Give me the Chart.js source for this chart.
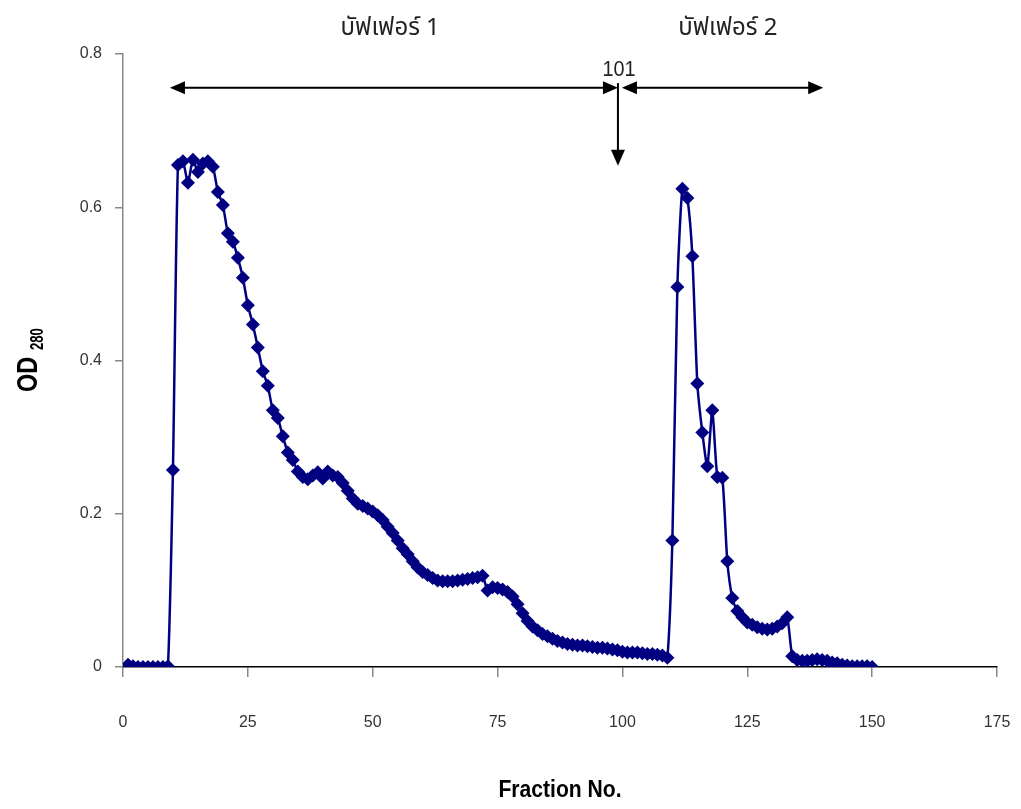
<!DOCTYPE html>
<html lang="th">
<head>
  <meta charset="UTF-8">
  <title>OD280 - Fraction No.</title>
  <script src="https://cdn.jsdelivr.net/npm/chart.js"></script>
  <style>
    html, body { margin: 0; padding: 0; background: #fff; }
    #wrap { width: 1021px; height: 809px; position: relative; }
  </style>
</head>
<body>
  <div id="wrap"><canvas id="odChart"></canvas></div>

  <script>
    // fraction numbers
    const fractions = [
      1, 2, 3, 4, 5, 6, 7, 8, 9, 10, 11, 12, 13, 14, 15, 16, 17, 18, 19, 20,
      21, 22, 23, 24, 25, 26, 27, 28, 29, 30, 31, 32, 33, 34, 35, 36, 37, 38, 39, 40,
      41, 42, 43, 44, 45, 46, 47, 48, 49, 50, 51, 52, 53, 54, 55, 56, 57, 58, 59, 60,
      61, 62, 63, 64, 65, 66, 67, 68, 69, 70, 71, 72, 73, 74, 75, 76, 77, 78, 79, 80,
      81, 82, 83, 84, 85, 86, 87, 88, 89, 90, 91, 92, 93, 94, 95, 96, 97, 98, 99, 100,
      101, 102, 103, 104, 105, 106, 107, 108, 109, 110, 111, 112, 113, 114, 115, 116, 117, 118, 119, 120,
      121, 122, 123, 124, 125, 126, 127, 128, 129, 130, 131, 132, 133, 134, 135, 136, 137, 138, 139, 140,
      141, 142, 143, 144, 145, 146, 147, 148, 149, 150
    ];

    // OD280 readings
    const od280 = [
      0.003, 0.001, 0.000, 0.000, 0.000, 0.000, 0.000, 0.000, 0.001, 0.257,
      0.655, 0.660, 0.632, 0.662, 0.646, 0.657, 0.660, 0.653, 0.620, 0.603,
      0.566, 0.555, 0.534, 0.508, 0.472, 0.447, 0.417, 0.386, 0.367, 0.335,
      0.325, 0.301, 0.280, 0.270, 0.255, 0.248, 0.245, 0.250, 0.254, 0.246,
      0.255, 0.250, 0.248, 0.240, 0.230, 0.220, 0.213, 0.210, 0.207, 0.203,
      0.198, 0.192, 0.183, 0.175, 0.165, 0.155, 0.147, 0.138, 0.130, 0.124,
      0.120, 0.116, 0.113, 0.112, 0.112, 0.112, 0.113, 0.114, 0.115, 0.116,
      0.117, 0.119, 0.100, 0.104, 0.103, 0.101, 0.098, 0.092, 0.082, 0.070,
      0.060, 0.053, 0.048, 0.043, 0.040, 0.037, 0.034, 0.032, 0.030, 0.029,
      0.028, 0.028, 0.027, 0.026, 0.025, 0.025, 0.024, 0.023, 0.022, 0.020,
      0.019, 0.019, 0.019, 0.018, 0.017, 0.017, 0.016, 0.015, 0.012, 0.165,
      0.496, 0.624, 0.612, 0.536, 0.370, 0.306, 0.262, 0.335, 0.248, 0.247,
      0.138, 0.090, 0.073, 0.065, 0.058, 0.055, 0.052, 0.050, 0.049, 0.050,
      0.053, 0.057, 0.065, 0.014, 0.009, 0.008, 0.008, 0.009, 0.010, 0.009,
      0.008, 0.006, 0.005, 0.003, 0.002, 0.001, 0.001, 0.001, 0.001, 0.000
    ];

    const xTicks = [0, 25, 50, 75, 100, 125, 150, 175];
    const yTicks = [0, 0.2, 0.4, 0.6, 0.8];

    // buffer ranges (fraction numbers) and labels
    const buffer1 = [9.4, 99.1];
    const buffer2 = [99.9, 140.2];
    const bufferLabels = ['บัฟเฟอร์ 1', 'บัฟเฟอร์ 2'];
    const bufferLabelAt = [53.5, 121.1];
    const switchFraction = 99.1;
    const switchLabel = '101';

    const points = fractions.map((f, i) => ({ x: f, y: od280[i] }));

    // narrow bold text, squeezed horizontally
    function narrowText(ctx, text, x, y, size, squeeze) {
      ctx.save();
      ctx.translate(x, y);
      ctx.scale(squeeze, 1);
      ctx.font = 'bold ' + size + 'px "Liberation Sans", sans-serif';
      ctx.fillText(text, 0, 0);
      ctx.restore();
    }

    // arrows, labels and axis titles
    const notes = {
      id: 'notes',
      afterDraw(chart) {
        const ctx = chart.ctx;
        const xs = chart.scales.x, ys = chart.scales.y;
        const yArrow = ys.getPixelForValue(0.756);
        ctx.save();
        ctx.strokeStyle = '#000';
        ctx.fillStyle = '#000';
        ctx.lineWidth = 2;

        function head(x, y, dir) {
          // dir: 1 right, -1 left, 2 down
          ctx.beginPath();
          if (dir === 2) {
            ctx.moveTo(x, y);
            ctx.lineTo(x - 7, y - 16);
            ctx.lineTo(x + 7, y - 16);
          } else {
            ctx.moveTo(x, y);
            ctx.lineTo(x - dir * 15, y - 6.5);
            ctx.lineTo(x - dir * 15, y + 6.5);
          }
          ctx.closePath();
          ctx.fill();
        }
        function dbl(a, b) {
          const x1 = xs.getPixelForValue(a), x2 = xs.getPixelForValue(b);
          ctx.beginPath();
          ctx.moveTo(x1 + 4, yArrow);
          ctx.lineTo(x2 - 4, yArrow);
          ctx.stroke();
          head(x1, yArrow, -1);
          head(x2, yArrow, 1);
        }
        dbl(buffer1[0], buffer1[1]);
        dbl(buffer2[0], buffer2[1]);

        // vertical arrow at the buffer change
        const xs0 = xs.getPixelForValue(switchFraction);
        const yBot = ys.getPixelForValue(0.654);
        ctx.beginPath();
        ctx.moveTo(xs0, ys.getPixelForValue(0.762));
        ctx.lineTo(xs0, yBot - 6);
        ctx.stroke();
        head(xs0, yBot, 2);

        ctx.textAlign = 'center';
        ctx.textBaseline = 'alphabetic';
        ctx.fillStyle = '#222';
        ctx.save();
        ctx.translate(xs0 + 1, 76);
        ctx.scale(0.9, 1);
        ctx.font = '22px "Liberation Sans", sans-serif';
        ctx.fillText(switchLabel, 0, 0);
        ctx.restore();

        ctx.font = '24px "Noto Sans Thai", "Loma", "Garuda", "Norasi", sans-serif';
        ctx.fillText(bufferLabels[0], xs.getPixelForValue(bufferLabelAt[0]), 35);
        ctx.fillText(bufferLabels[1], xs.getPixelForValue(bufferLabelAt[1]), 35);

        // x axis title
        ctx.fillStyle = '#000';
        narrowText(ctx, 'Fraction No.', (chart.chartArea.left + chart.chartArea.right) / 2, 797, 24, 0.88);

        // y axis title OD with subscript 280
        ctx.translate(37, 392);
        ctx.rotate(-Math.PI / 2);
        ctx.textAlign = 'left';
        narrowText(ctx, 'OD', 0, 0, 30, 0.78);
        narrowText(ctx, '280', 42, 6, 18, 0.73);
        ctx.restore();
      }
    };

    new Chart(document.getElementById('odChart'), {
      type: 'line',
      data: {
        datasets: [{
          label: 'OD280',
          data: points,
          borderColor: '#000080',
          backgroundColor: '#000080',
          borderWidth: 2.5,
          tension: 0.2,
          pointStyle: 'rectRot',
          pointRadius: 7,
          pointBorderWidth: 0,
          pointBackgroundColor: '#000080'
        }]
      },
      options: {
        responsive: true,
        maintainAspectRatio: false,
        animation: false,
        layout: { padding: { top: 54, right: 24, left: 0, bottom: 0 } },
        plugins: {
          legend: { display: false },
          tooltip: { enabled: false }
        },
        scales: {
          x: {
            type: 'linear',
            min: 0,
            max: 175,
            afterBuildTicks: s => { s.ticks = xTicks.map(v => ({ value: v })); },
            afterFit: s => { s.height = 142; s.paddingLeft = 0; s.paddingRight = 0; },
            border: { color: '#000', width: 1.5 },
            grid: { drawOnChartArea: false, drawTicks: true, tickLength: 10, color: '#888', lineWidth: 1.5 },
            ticks: {
              padding: 36,
              color: '#333',
              font: { family: '"Liberation Sans", sans-serif', size: 16 }
            }
          },
          y: {
            min: 0,
            max: 0.8,
            afterBuildTicks: s => { s.ticks = yTicks.map(v => ({ value: v })); },
            afterFit: s => { s.width = 123; },
            border: { color: '#888', width: 1.5 },
            grid: { drawOnChartArea: false, drawTicks: true, tickLength: 8, color: '#888', lineWidth: 1.5 },
            ticks: {
              padding: 13,
              color: '#333',
              font: { family: '"Liberation Sans", sans-serif', size: 16 },
              callback: v => (v === 0 ? '0' : v.toFixed(1))
            }
          }
        }
      },
      plugins: [notes]
    });
  </script>
</body>
</html>
